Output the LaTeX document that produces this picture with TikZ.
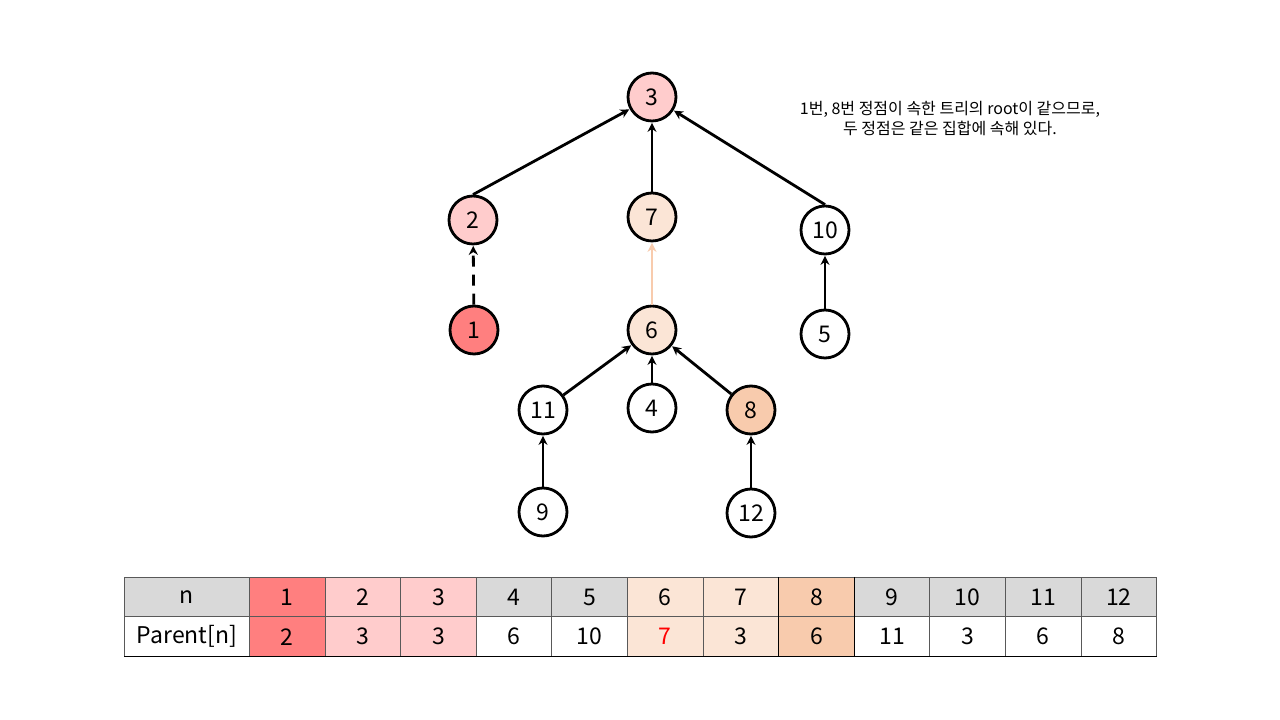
\documentclass[tikz,border=0pt]{standalone}
\usepackage{fontspec}
\setmainfont{Noto Sans CJK KR}
\usetikzlibrary{arrows.meta}
\definecolor{cRed}{HTML}{FF7F7F}
\definecolor{cPink}{HTML}{FFCCCC}
\definecolor{cPeach}{HTML}{FBE5D6}
\definecolor{cOrange}{HTML}{F8CBAD}
\definecolor{cGray}{HTML}{D9D9D9}
\definecolor{cLine}{HTML}{595959}
\tikzset{
  vtx/.style={circle, draw=black, line width=2.8pt, minimum size=48pt, inner sep=0pt, font=\fontsize{23}{26}\selectfont},
  edge/.style={line width=2.8pt, -{Stealth[length=9pt,width=9pt]}, shorten >=0.5pt},
  cell/.style={draw=cLine, line width=0.9pt, minimum height=39.5pt, minimum width=75.6pt, inner sep=0pt, font=\fontsize{23}{26}\selectfont, anchor=north west},
  note/.style={font=\fontsize{16}{20}\selectfont, align=center}
}
\begin{document}
\begin{tikzpicture}[x=1pt,y=1pt]
\useasboundingbox (0,0) rectangle (1280,720);
\fill[white] (0,0) rectangle (1280,720);
% tree nodes (y = 720 - pixel y)
\node[vtx, fill=cPink]   (n3)  at (652,623) {3};
\node[vtx, fill=cPink]   (n2)  at (473,500) {2};
\node[vtx, fill=cPeach]  (n7)  at (652,503) {7};
\node[vtx, fill=white]   (n10) at (825,490) {10};
\node[vtx, fill=cRed]    (n1)  at (474,390) {1};
\node[vtx, fill=cPeach]  (n6)  at (652,390) {6};
\node[vtx, fill=white]   (n5)  at (825,386) {5};
\node[vtx, fill=white]   (n11) at (543,310) {11};
\node[vtx, fill=white]   (n4)  at (652,312) {4};
\node[vtx, fill=cOrange] (n8)  at (751,310) {8};
\node[vtx, fill=white]   (n9)  at (543,208) {9};
\node[vtx, fill=white]   (n12) at (751,207) {12};
% edges
\draw[edge] (n2.north) -- (n3);
\draw[edge] (n7) -- (n3);
\draw[edge] (n10.north) -- (n3);
\draw[edge, dashed, dash pattern=on 11pt off 8pt] (n1) -- (n2);
\draw[edge, draw=cOrange, line width=2.4pt] (n6) -- (n7);
\draw[edge] (n5) -- (n10);
\draw[edge] (n11) -- (n6);
\draw[edge] (n4) -- (n6);
\draw[edge] (n8) -- (n6);
\draw[edge] (n9) -- (n11);
\draw[edge] (n12) -- (n8);
% note
\node[note] (txt) at (950,601) {1번, 8번 정점이 속한 트리의 root이 같으므로,\\두 정점은 같은 집합에 속해 있다.};
% table
\node[cell, minimum width=125pt, fill=cGray] (hn) at (124,143) {n};
\node[cell, minimum width=125pt, fill=white] (pn) at (124,103.5) {Parent[n]};
\node[cell, fill=cRed]    (h1)  at (249,143)   {1};
\node[cell, fill=cPink]   (h2)  at (324.6,143) {2};
\node[cell, fill=cPink]   (h3)  at (400.2,143) {3};
\node[cell, fill=cGray]   (h4)  at (475.8,143) {4};
\node[cell, fill=cGray]   (h5)  at (551.4,143) {5};
\node[cell, fill=cPeach]  (h6)  at (627,143)   {6};
\node[cell, fill=cPeach]  (h7)  at (702.6,143) {7};
\node[cell, fill=cOrange] (h8)  at (778.2,143) {8};
\node[cell, fill=cGray]   (h9)  at (853.8,143) {9};
\node[cell, fill=cGray]   (h10) at (929.4,143) {10};
\node[cell, fill=cGray]   (h11) at (1005,143)  {11};
\node[cell, fill=cGray]   (h12) at (1080.6,143){12};
\node[cell, fill=cRed]    (p1)  at (249,103.5)   {2};
\node[cell, fill=cPink]   (p2)  at (324.6,103.5) {3};
\node[cell, fill=cPink]   (p3)  at (400.2,103.5) {3};
\node[cell, fill=white]   (p4)  at (475.8,103.5) {6};
\node[cell, fill=white]   (p5)  at (551.4,103.5) {10};
\node[cell, fill=cPeach, text=red] (p6) at (627,103.5) {7};
\node[cell, fill=cPeach]  (p7)  at (702.6,103.5) {3};
\node[cell, fill=cOrange] (p8)  at (778.2,103.5) {6};
\node[cell, fill=white]   (p9)  at (853.8,103.5) {11};
\node[cell, fill=white]   (p10) at (929.4,103.5) {3};
\node[cell, fill=white]   (p11) at (1005,103.5)  {6};
\node[cell, fill=white]   (p12) at (1080.6,103.5){8};
\draw[black, line width=1.2pt] (pn.south west) -- (p12.south east);
\draw[black, line width=0.9pt] (h8.north west) -- (p8.south west);
\draw[black, line width=0.9pt] (h8.north east) -- (p8.south east);
\end{tikzpicture}
\end{document}
